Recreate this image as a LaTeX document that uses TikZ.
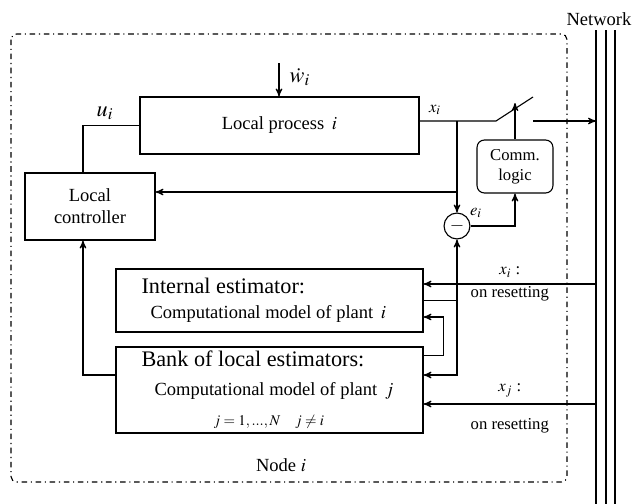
\documentclass[tikz,border=0pt]{standalone}
\usepackage{amsmath}
\usepackage{amssymb}
\usepackage{mathptmx}
\usepackage{fontspec}
\setmainfont{Liberation Serif}
\usetikzlibrary{arrows,positioning}

\begin{document}
\begin{tikzpicture}[x=0.54pt,y=-0.54pt,>=stealth',line width=0.6pt,
    block/.style={draw,rectangle,inner sep=0pt,align=center},
    logic/.style={block,rounded corners=4pt,font=\small},
    sumnode/.style={draw,circle,inner sep=0pt,minimum size=14pt},
    txt/.style={anchor=base west,inner sep=0pt}]

\useasboundingbox (0,0) rectangle (634,504);

% node frame and network bus
\draw[dash dot,rounded corners=3pt] (11,34) rectangle (567,482);
\node (nodei) at (281,465) {Node $i$};
\foreach \xx in {596,606,615} \draw (\xx,30) -- (\xx,504);
\node (netlbl) at (599,19) {Network};

% blocks
\node[block,minimum width=150.7pt,minimum height=30.8pt] (proc) at (279.5,125.5) {Local process\ \,$i$};
\node[block,minimum width=70.2pt,minimum height=36.2pt] (ctrl) at (90,206.5) {Local\\controller};
\node[logic,minimum width=41pt,minimum height=28.6pt] (comm) at (515,166.5) {Comm.\\logic};
\node[sumnode] (diff) at (457,226) {$-$};
\node[block,minimum width=165.8pt,minimum height=34pt] (intest) at (269.5,300.5) {};
\node[block,minimum width=165.8pt,minimum height=46.4pt] (bank) at (269.5,390) {};

% block texts
\node[txt,font=\large] (ie1) at (141,293) {Internal estimator:};
\node[txt] (ie2) at (150,318) {Computational model of plant\ \,$i$};
\node[txt,font=\large] (bk1) at (141,366) {Bank of local estimators:};
\node[txt] (bk2) at (154,395) {Computational model of plant\ \,$j$};
\node[txt,font=\footnotesize] (bk3) at (213,425) {$j=1,...,N\quad j\neq i$};

% helper points
\coordinate (wtop) at (279,63);
\coordinate (tap) at (457,121);
\coordinate (swA) at (496,121);
\coordinate (swB) at (533,97);
\coordinate (swC) at (533,121);
\coordinate (swtip) at (515,103);
\coordinate (fb) at (457,192);
\coordinate (nxi) at (596,284);
\coordinate (nxj) at (596,404);

% signals
\draw[->] (wtop) -- (wtop |- proc.north);
\node[font=\large,anchor=west] (wlbl) at (283,77) {$\dot w_i$};
\draw (proc.west) -| ([xshift=-3.8pt]ctrl.north);
\node[font=\large] (ulbl) at (105,113) {$u_i$};
\draw (proc.east |- tap) -- (swA) -- (swB);
\node[font=\small] (xlbl) at (435,110) {$x_i$};
\draw[->] (swC) -- (swC -| nxi);
\draw[->] (tap) -- (diff.north);
\draw[->] (fb) -- (fb -| ctrl.east);
\draw[->] (diff.east) -| (comm.south);
\node[font=\small] (elbl) at (476,213) {$e_i$};
\draw[->] (comm.north) -- (comm.north |- swtip);
\draw[->] (intest.east) -| (diff.south);
\draw[->] (intest.east -| diff.south) |- ([yshift=8.1pt]bank.east);
\draw[->] ([yshift=18.4pt]bank.east) -- ++(10.8pt,0) |- ([yshift=-8.9pt]intest.east);
\draw[->] ([yshift=8.1pt]bank.west) -| ([xshift=-3.8pt]ctrl.south);
\draw[->] (nxi) -- (nxi -| intest.east)
    node[midway,above,font=\small] {$x_i$ :}
    node[midway,below,font=\small,inner sep=1pt] {on resetting};
\draw[->] (nxj) -- (nxj -| bank.east)
    node[midway,above,font=\small] {$x_j$ :}
    node[midway,below=4pt,font=\small] {on resetting};
\end{tikzpicture}
\end{document}
